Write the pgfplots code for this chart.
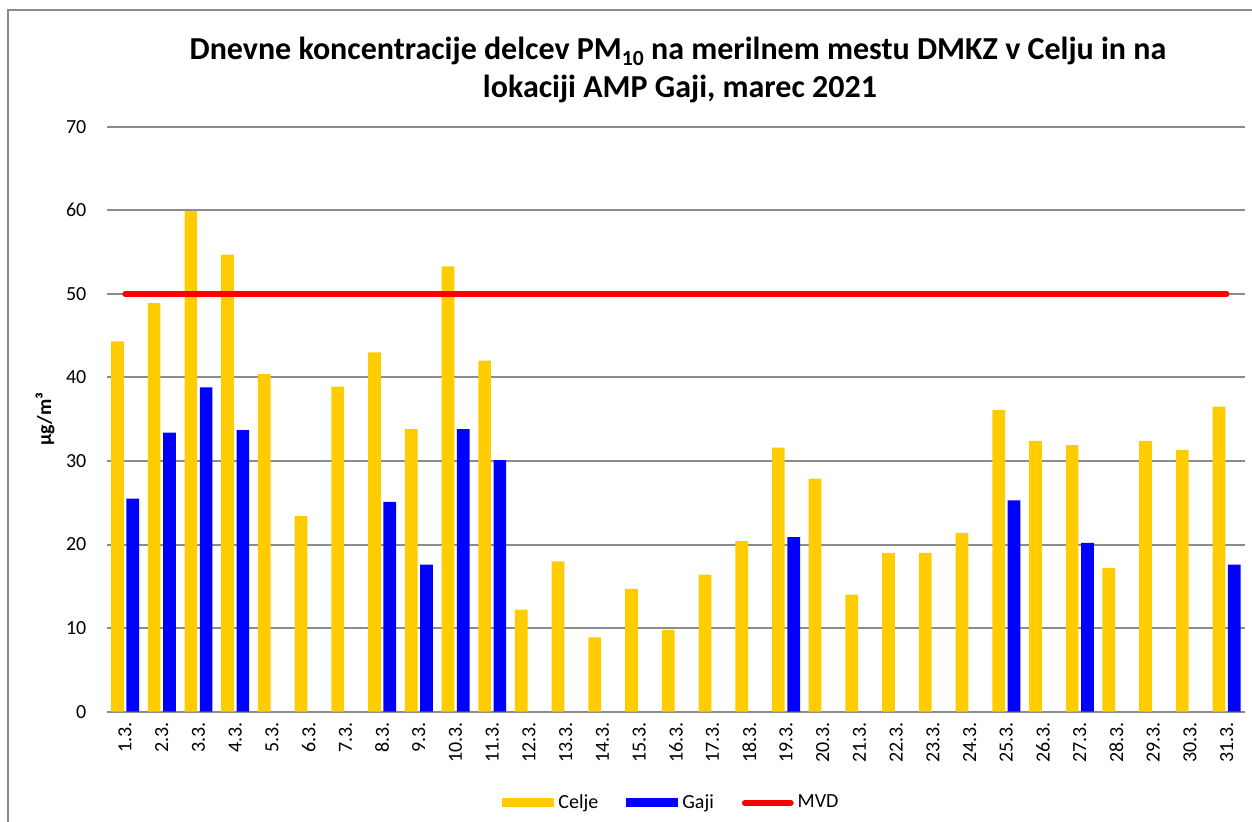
\documentclass[border=0pt]{standalone}
\usepackage{fontspec}
\setmainfont{Carlito}
\usepackage{pgfplots}
\pgfplotsset{compat=1.18}
\definecolor{celje}{HTML}{FFCC00}
\definecolor{gaji}{HTML}{0000FF}
\definecolor{mvd}{HTML}{FF0000}
\definecolor{gridgray}{HTML}{8C8C8C}
\begin{document}
\begin{tikzpicture}
\path[use as bounding box] (0pt,0pt) rectangle (626pt,411pt);
\draw[gridgray, line width=1pt] (4pt,0pt) -- (4pt,406pt) -- (626pt,406pt);
\node[font=\fontsize{16}{19}\selectfont\bfseries, anchor=base] at (339pt,381pt)
  {Dnevne koncentracije delcev PM\raisebox{-0.35ex}{\fontsize{10.8}{11}\selectfont 10} na merilnem mestu DMKZ v Celju in na};
\node[font=\fontsize{16}{19}\selectfont\bfseries, anchor=base] at (340pt,362pt)
  {lokaciji AMP Gaji, marec 2021};
\begin{axis}[
  at={(53.35pt,55.15pt)}, anchor=south west,
  scale only axis, width=569.15pt, height=292.5pt,
  xmin=-0.5, xmax=30.5, ymin=0, ymax=70,
  ytick={0,10,...,70},
  xtick={0,...,30},
  xticklabels={1.3.,2.3.,3.3.,4.3.,5.3.,6.3.,7.3.,8.3.,9.3.,10.3.,11.3.,12.3.,13.3.,14.3.,15.3.,16.3.,17.3.,18.3.,19.3.,20.3.,21.3.,22.3.,23.3.,24.3.,25.3.,26.3.,27.3.,28.3.,29.3.,30.3.,31.3.},
  axis line style={draw=none},
  major tick length=0pt,
  ymajorgrids, xmajorgrids=false,
  major grid style={gridgray, line width=1pt},
  tick label style={font=\fontsize{10}{12}\selectfont},
  /pgf/number format/assume math mode=true,
  yticklabel style={anchor=east, inner sep=0pt, xshift=-10pt},
  xticklabel style={rotate=90, anchor=east, inner sep=5pt},
  ylabel={\textbf{µg/m³}},
  ylabel style={at={(axis description cs:-0.0542,0.5)}, anchor=center, font=\fontsize{10}{12}\selectfont},
  legend style={at={(axis description cs:0.497,-0.156)}, anchor=center, draw=none,
    font=\fontsize{10}{12}\selectfont, legend columns=-1,
    /tikz/every even column/.append style={column sep=12pt}},
  bar width=0.346,
]
\addplot[ybar, bar shift=-0.208, fill=celje, draw=none,
  legend image code/.code={\fill[celje] (0pt,-2.25pt) rectangle (26pt,2.25pt);}]
  coordinates {
(0,44.3) (1,48.9) (2,59.9) (3,54.7) (4,40.4) (5,23.4) (6,38.9) (7,43.0)
(8,33.8) (9,53.3) (10,42.0) (11,12.2) (12,18.0) (13,8.9) (14,14.7) (15,9.8)
(16,16.4) (17,20.4) (18,31.6) (19,27.9) (20,14.0) (21,19.0) (22,19.0) (23,21.4)
(24,36.1) (25,32.4) (26,31.9) (27,17.2) (28,32.4) (29,31.3) (30,36.5)
};
\addlegendentry{Celje}
\addplot[ybar, bar shift=0.208, fill=gaji, draw=none,
  legend image code/.code={\fill[gaji] (0pt,-2.25pt) rectangle (26pt,2.25pt);}]
  coordinates {
(0,25.5) (1,33.4) (2,38.8) (3,33.7) (7,25.1) (8,17.6) (9,33.8) (10,30.1)
(18,20.9) (24,25.3) (26,20.2) (30,17.6)
};
\addlegendentry{Gaji}
\addplot[mvd, line width=2.7pt, line cap=round, mark=none,
  legend image code/.code={\draw[mvd, line width=2.7pt, line cap=round] (1.4pt,0pt) -- (24.6pt,0pt);}]
  coordinates {(0,50) (30,50)};
\addlegendentry{MVD}
\end{axis}
\end{tikzpicture}
\end{document}
